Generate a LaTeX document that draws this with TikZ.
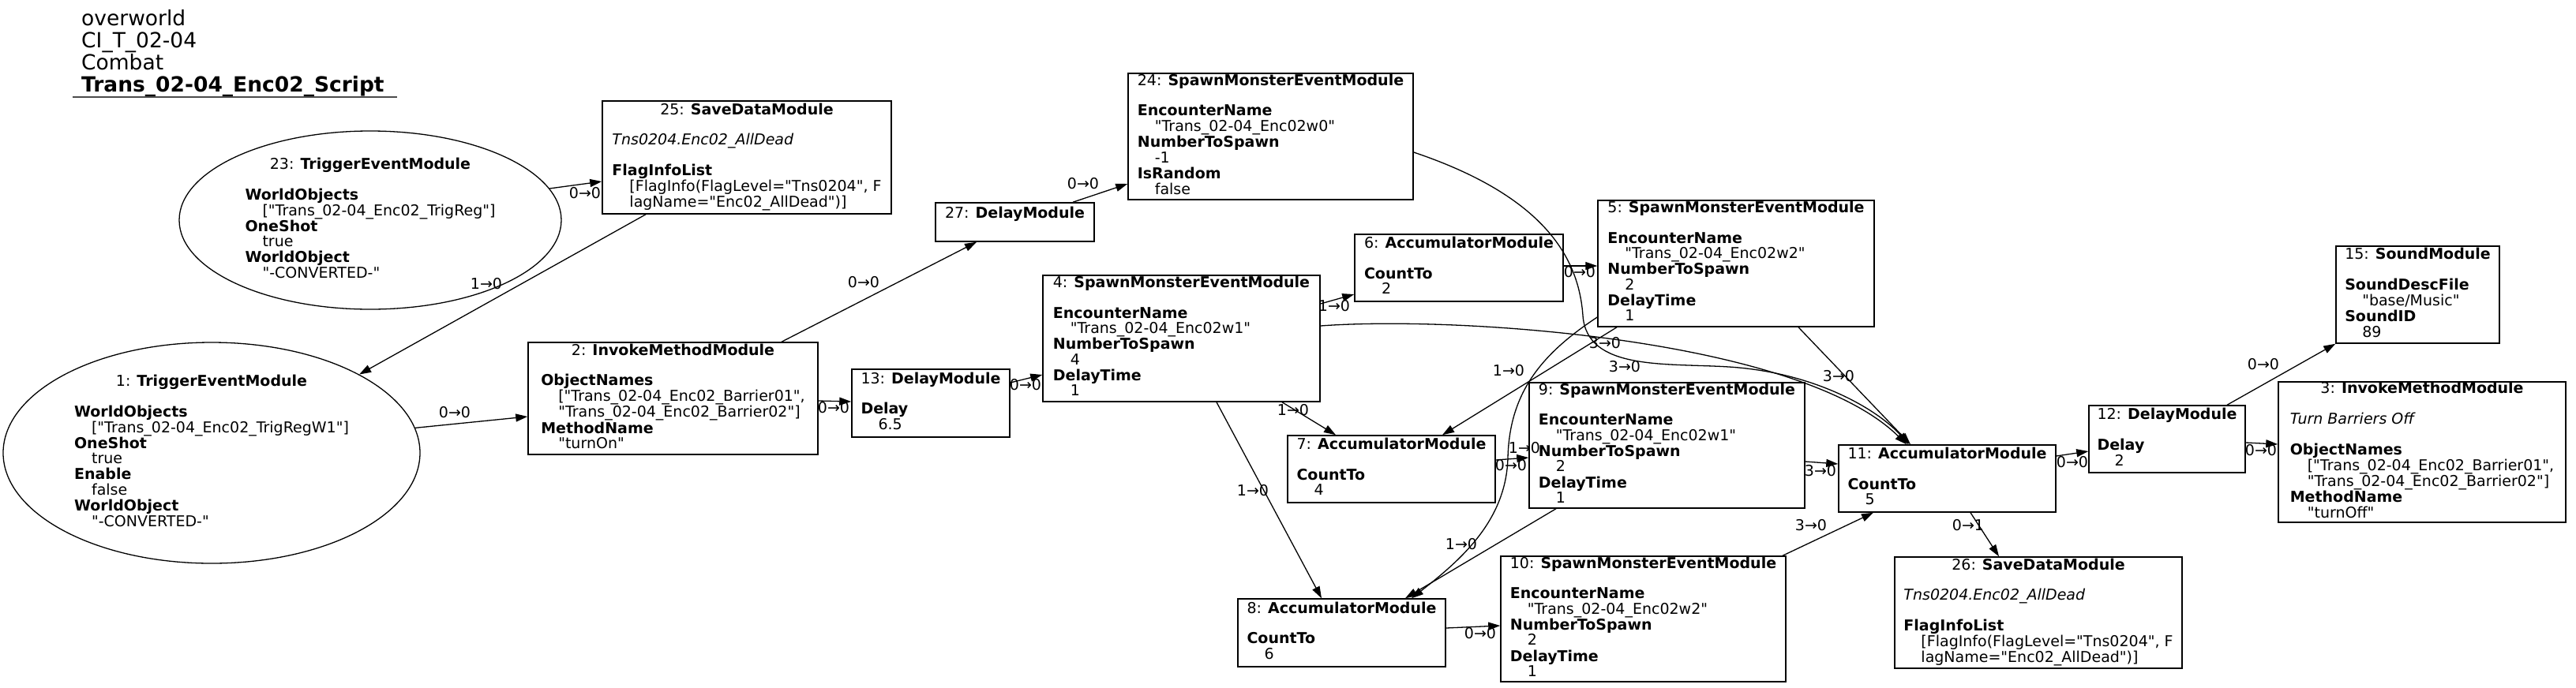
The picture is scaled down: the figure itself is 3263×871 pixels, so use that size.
\documentclass[tikz,border=0pt]{standalone}
\usepackage{fontspec}
\setmainfont{DejaVu Sans}[Ligatures=TeXOff]
\usetikzlibrary{arrows.meta,shapes.geometric}
\newcommand{\vin}{\hspace*{22pt}}
\newcommand{\ttl}[1]{\multicolumn{1}{@{}c@{}}{#1}}

\begin{document}
\begin{tikzpicture}[x=1pt,y=-1pt,
			mod/.style={
				draw,
				rectangle,
				line width=1.5pt,
				inner sep=0pt,
				font=\fontsize{19}{18.7}\selectfont
			},
			trig/.style={
				draw,
				ellipse,
				line width=1.3pt,
				inner sep=0pt,
				font=\fontsize{19}{18.7}\selectfont
			},
			lbl/.style={inner sep=0pt,font=\fontsize{19}{19}\selectfont},
			link/.style={-{Triangle[length=15pt,width=10pt]},line width=1.3pt}
			]
			\useasboundingbox (0,0) rectangle (3263,871);
			
			% title block
			\node[anchor=north west,inner sep=0pt,font=\fontsize{26.5}{26.7}\selectfont] (hdr) at (103,12)
			{\begin{tabular}{@{}l@{}}overworld\\CI\_T\_02-04\\Combat\\\textbf{Trans\_02-04\_Enc02\_Script}\end{tabular}};
			\draw[line width=2pt,black!70] (92,123) -- (503,123);
			
			% triggers
			\node[trig,minimum width=484pt,minimum height=226pt] (n23) at (469,279)
			{\begin{tabular}{@{}l@{}}\ttl{23: \textbf{TriggerEventModule}}\\ \\ \textbf{WorldObjects}\\ \vin["Trans\_02-04\_Enc02\_TrigReg"]\\ \textbf{OneShot}\\ \vin true\\ \textbf{WorldObject}\\ \vin"-CONVERTED-"\end{tabular}};
			
			\node[trig,minimum width=528pt,minimum height=280pt] (n1) at (268,574)
			{\begin{tabular}{@{}l@{}}\ttl{1: \textbf{TriggerEventModule}}\\ \\ \textbf{WorldObjects}\\ \vin["Trans\_02-04\_Enc02\_TrigRegW1"]\\ \textbf{OneShot}\\ \vin true\\ \textbf{Enable}\\ \vin false\\ \textbf{WorldObject}\\ \vin"-CONVERTED-"\end{tabular}};
			
			% modules
			\node[mod,minimum width=366pt,minimum height=143pt] (n25) at (946,199.5)
			{\begin{tabular}{@{}l@{}}\ttl{25: \textbf{SaveDataModule}}\\ \\ \textit{Tns0204.Enc02\_AllDead}\\ \\ \textbf{FlagInfoList}\\ \vin[FlagInfo(FlagLevel="Tns0204", F\\ \vin lagName="Enc02\_AllDead")]\end{tabular}};
			
			\node[mod,minimum width=361pt,minimum height=160pt] (n24) at (1609.5,173)
			{\begin{tabular}{@{}l@{}}\ttl{24: \textbf{SpawnMonsterEventModule}}\\ \\ \textbf{EncounterName}\\ \vin"Trans\_02-04\_Enc02w0"\\ \textbf{NumberToSpawn}\\ \vin -1\\ \textbf{IsRandom}\\ \vin false\end{tabular}};
			
			\node[mod,minimum width=201pt,minimum height=49pt] (n27) at (1285.5,281.5)
			{\begin{tabular}{@{}l@{}}\ttl{27: \textbf{DelayModule}}\\ \\\end{tabular}};
			
			\node[mod,minimum width=367pt,minimum height=142pt] (n2) at (852.5,505)
			{\begin{tabular}{@{}l@{}}\ttl{2: \textbf{InvokeMethodModule}}\\ \\ \textbf{ObjectNames}\\ \vin["Trans\_02-04\_Enc02\_Barrier01",\\ \vin"Trans\_02-04\_Enc02\_Barrier02"]\\ \textbf{MethodName}\\ \vin"turnOn"\end{tabular}};
			
			\node[mod,minimum width=200pt,minimum height=86pt] (n13) at (1179,511)
			{\begin{tabular}{@{}l@{}}\ttl{13: \textbf{DelayModule}}\\ \\ \textbf{Delay}\\ \vin 6.5\end{tabular}};
			
			\node[mod,minimum width=351pt,minimum height=160pt] (n4) at (1496.5,429)
			{\begin{tabular}{@{}l@{}}\ttl{4: \textbf{SpawnMonsterEventModule}}\\ \\ \textbf{EncounterName}\\ \vin"Trans\_02-04\_Enc02w1"\\ \textbf{NumberToSpawn}\\ \vin 4\\ \textbf{DelayTime}\\ \vin 1\end{tabular}};
			
			\node[mod,minimum width=264pt,minimum height=85pt] (n6) at (1848,339.5)
			{\begin{tabular}{@{}l@{}}\ttl{6: \textbf{AccumulatorModule}}\\ \\ \textbf{CountTo}\\ \vin 2\end{tabular}};
			
			\node[mod,minimum width=350pt,minimum height=160pt] (n5) at (2199,334)
			{\begin{tabular}{@{}l@{}}\ttl{5: \textbf{SpawnMonsterEventModule}}\\ \\ \textbf{EncounterName}\\ \vin"Trans\_02-04\_Enc02w2"\\ \textbf{NumberToSpawn}\\ \vin 2\\ \textbf{DelayTime}\\ \vin 1\end{tabular}};
			
			\node[mod,minimum width=349pt,minimum height=159pt] (n9) at (2111.5,564.5)
			{\begin{tabular}{@{}l@{}}\ttl{9: \textbf{SpawnMonsterEventModule}}\\ \\ \textbf{EncounterName}\\ \vin"Trans\_02-04\_Enc02w1"\\ \textbf{NumberToSpawn}\\ \vin 2\\ \textbf{DelayTime}\\ \vin 1\end{tabular}};
			
			\node[mod,minimum width=263pt,minimum height=85pt] (n7) at (1762.5,594.5)
			{\begin{tabular}{@{}l@{}}\ttl{7: \textbf{AccumulatorModule}}\\ \\ \textbf{CountTo}\\ \vin 4\end{tabular}};
			
			\node[mod,minimum width=275pt,minimum height=85pt] (n11) at (2466.5,606.5)
			{\begin{tabular}{@{}l@{}}\ttl{11: \textbf{AccumulatorModule}}\\ \\ \textbf{CountTo}\\ \vin 5\end{tabular}};
			
			\node[mod,minimum width=198pt,minimum height=85pt] (n12) at (2745,556.5)
			{\begin{tabular}{@{}l@{}}\ttl{12: \textbf{DelayModule}}\\ \\ \textbf{Delay}\\ \vin 2\end{tabular}};
			
			\node[mod,minimum width=207pt,minimum height=123pt] (n15) at (3062.5,373.5)
			{\begin{tabular}{@{}l@{}}\ttl{15: \textbf{SoundModule}}\\ \\ \textbf{SoundDescFile}\\ \vin"base/Music"\\ \textbf{SoundID}\\ \vin 89\end{tabular}};
			
			\node[mod,minimum width=364pt,minimum height=178pt] (n3) at (3068,573)
			{\begin{tabular}{@{}l@{}}\ttl{3: \textbf{InvokeMethodModule}}\\ \\ \textit{Turn Barriers Off}\\ \\ \textbf{ObjectNames}\\ \vin["Trans\_02-04\_Enc02\_Barrier01",\\ \vin"Trans\_02-04\_Enc02\_Barrier02"]\\ \textbf{MethodName}\\ \vin"turnOff"\end{tabular}};
			
			\node[mod,minimum width=364pt,minimum height=141pt] (n26) at (2582,776.5)
			{\begin{tabular}{@{}l@{}}\ttl{26: \textbf{SaveDataModule}}\\ \\ \textit{Tns0204.Enc02\_AllDead}\\ \\ \textbf{FlagInfoList}\\ \vin[FlagInfo(FlagLevel="Tns0204", F\\ \vin lagName="Enc02\_AllDead")]\end{tabular}};
			
			\node[mod,minimum width=263pt,minimum height=86pt] (n8) at (1699.5,802)
			{\begin{tabular}{@{}l@{}}\ttl{8: \textbf{AccumulatorModule}}\\ \\ \textbf{CountTo}\\ \vin 6\end{tabular}};
			
			\node[mod,minimum width=361pt,minimum height=159pt] (n10) at (2081.5,784.5)
			{\begin{tabular}{@{}l@{}}\ttl{10: \textbf{SpawnMonsterEventModule}}\\ \\ \textbf{EncounterName}\\ \vin"Trans\_02-04\_Enc02w2"\\ \textbf{NumberToSpawn}\\ \vin 2\\ \textbf{DelayTime}\\ \vin 1\end{tabular}};
			
			% links
			\draw[link] (n23.10) -- ([yshift=-30.5pt]n25.west);
			\draw[link] ([xshift=-128pt]n25.south) -- (n1.28);
			\draw[link] (n1.7) -- ([yshift=-23pt]n2.west);
			\draw[link] ([yshift=-3pt]n2.east) -- ([yshift=2pt]n13.west);
			\draw[link] ([xshift=137.5pt]n2.north) -- ([xshift=-48.5pt]n27.south);
			\draw[link] ([xshift=73.5pt]n27.north) -- ([yshift=-60pt]n24.west);
			\draw[link] ([yshift=26pt]n13.east) -- ([yshift=-46pt]n4.west);
			\draw[link] ([yshift=44pt]n4.east) -- ([yshift=-33.5pt]n6.west);
			\draw[link] ([xshift=127.5pt]n4.south) -- ([xshift=-70.5pt]n7.north);
			\draw[link] ([xshift=44.5pt]n4.south) -- ([xshift=-25.5pt]n8.north);
			\draw[link] ([yshift=16pt]n4.east) .. controls (1850,400) and (2280,430) .. ([xshift=-51.5pt]n11.north);
			\draw[link] ([yshift=-20pt]n24.east) .. controls (1960,250) and (2000,330) .. (2005,400)
			.. controls (2010,470) and (2110,460) .. (2190,465)
			.. controls (2300,472) and (2380,520) .. ([xshift=-49pt]n11.north);
			\draw[link] ([yshift=2.5pt]n6.east) -- ([yshift=-3pt]n5.west);
			\draw[link] ([xshift=-151pt]n5.south) -- ([xshift=64.5pt]n7.north);
			\draw[link] ([yshift=-68pt]n5.west) .. controls (1950,450) and (1912,500) .. (1910,580)
			.. controls (1908,660) and (1850,710) .. ([xshift=88.5pt]n8.north);
			\draw[link] ([xshift=79pt]n5.south) -- ([xshift=-46.5pt]n11.north);
			\draw[link] ([yshift=11.5pt]n7.east) -- ([yshift=-15.5pt]n9.west);
			\draw[link] ([xshift=-140.5pt]n9.south) -- ([xshift=80.5pt]n8.north);
			\draw[link] ([yshift=-20.5pt]n9.east) -- ([yshift=18.5pt]n11.west);
			\draw[link] ([yshift=6pt]n8.east) -- ([yshift=-8.5pt]n10.west);
			\draw[link] ([xshift=176.5pt]n10.north) -- ([xshift=-93.5pt]n11.south);
			\draw[link] ([yshift=28.5pt]n11.east) -- ([yshift=-15.5pt]n12.west);
			\draw[link] ([xshift=76pt]n12.north) -- (n15.south west);
			\draw[link] ([yshift=-4.5pt]n12.east) -- ([yshift=10pt]n3.west);
			\draw[link] ([xshift=29.5pt]n11.south) -- ([xshift=-50pt]n26.north);
			
			% link labels
			\node[lbl] (e23) at (741,245) {0→0};
			\node[lbl] (e25) at (616,360) {1→0};
			\node[lbl] (e1) at (576,523) {0→0};
			\node[lbl] (e2a) at (1056,517) {0→0};
			\node[lbl] (e2b) at (1094,358) {0→0};
			\node[lbl] (e27) at (1372,233) {0→0};
			\node[lbl] (e13) at (1299,488) {0→0};
			\node[lbl] (e4a) at (1690,388) {1→0};
			\node[lbl] (e4b) at (1638,520) {1→0};
			\node[lbl] (e4c) at (1587,622) {1→0};
			\node[lbl] (e4d) at (2033,435) {3→0};
			\node[lbl] (e24) at (2058,465) {3→0};
			\node[lbl] (e6) at (2001,345) {0→0};
			\node[lbl] (e5a) at (1911,470) {1→0};
			\node[lbl] (e5b) at (1931,568) {1→0};
			\node[lbl] (e5c) at (2329,477) {3→0};
			\node[lbl] (e7) at (1914,590) {0→0};
			\node[lbl] (e9a) at (1851,690) {1→0};
			\node[lbl] (e9b) at (2306,597) {3→0};
			\node[lbl] (e8) at (1875,803) {0→0};
			\node[lbl] (e10) at (2294,666) {3→0};
			\node[lbl] (e11a) at (2625,586) {0→0};
			\node[lbl] (e12a) at (2867,462) {0→0};
			\node[lbl] (e12b) at (2864,571) {0→0};
			\node[lbl] (e11b) at (2493,666) {0→1};
			
		\end{tikzpicture}
\end{document}
